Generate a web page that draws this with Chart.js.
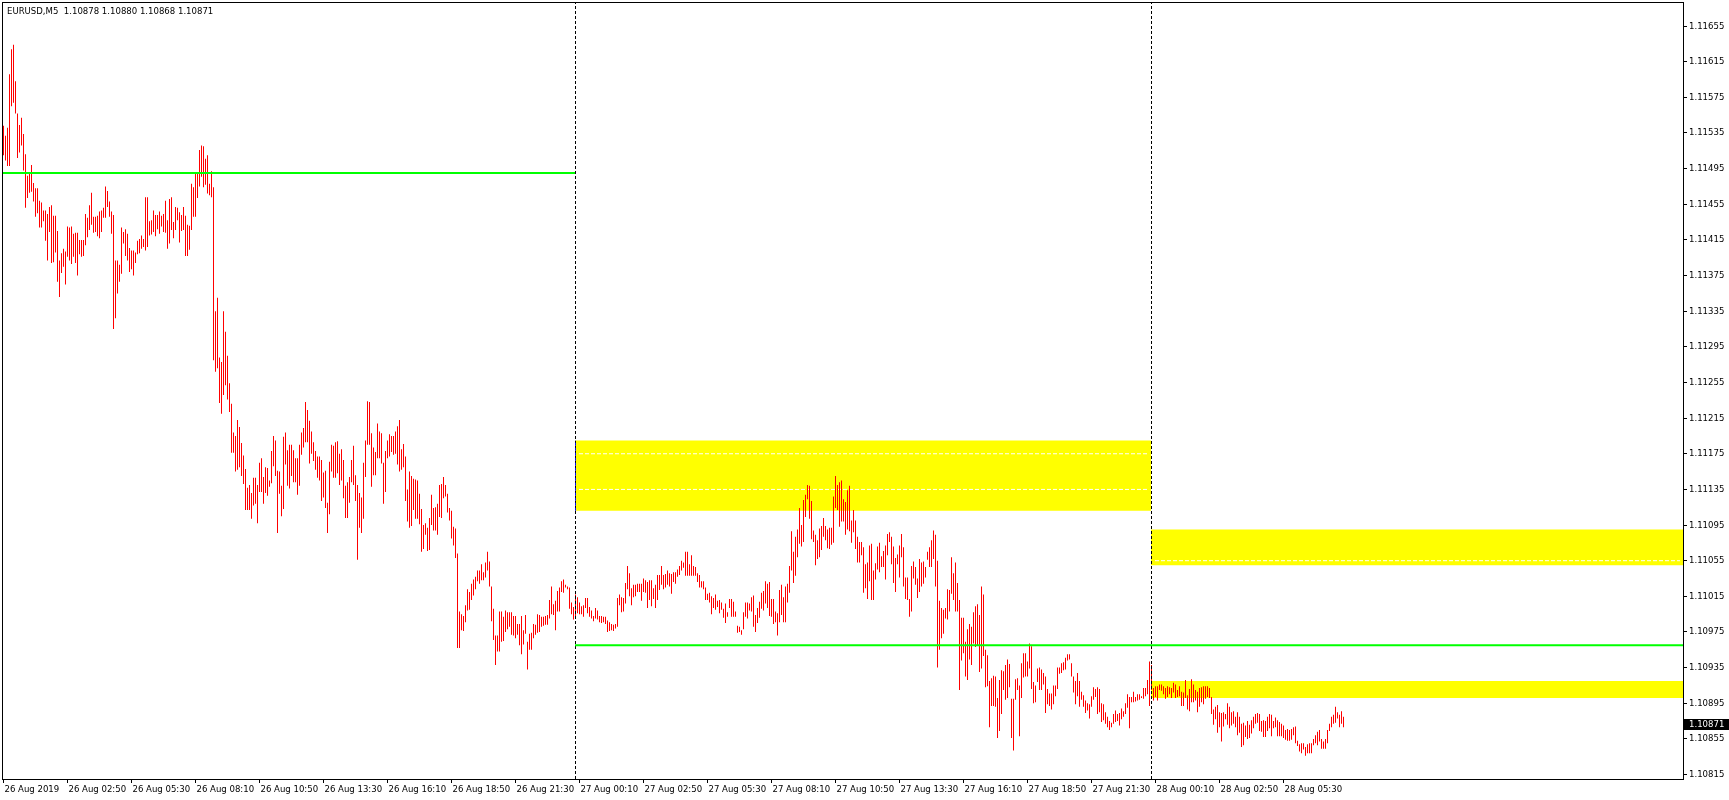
<!DOCTYPE html>
<html><head><meta charset="utf-8">
<script src="https://cdn.jsdelivr.net/npm/chart.js@4.4.1/dist/chart.umd.min.js"></script>
<style>html,body{margin:0;padding:0;background:#fff;overflow:hidden}canvas{display:block}</style>
</head><body>
<canvas id="c" width="1729" height="800"></canvas>
<script>
const symbolTitle = "EURUSD,M5";
const lastBar = {open: 1.10878, high: 1.10880, low: 1.10868, close: 1.10871};

const highs = [
1.11543,1.11532,1.11541,1.11601,1.11629,1.11634,1.11593,1.11557,1.11544,1.11552,
1.11534,1.11511,1.11487,1.11490,1.11499,1.11479,1.11473,1.11473,1.11459,1.11457,
1.11448,1.11448,1.11444,1.11452,1.11454,1.11442,1.11442,1.11425,1.11392,1.11400,
1.11405,1.11402,1.11430,1.11429,1.11430,1.11422,1.11423,1.11423,1.11415,1.11415,
1.11415,1.11444,1.11440,1.11454,1.11468,1.11441,1.11441,1.11442,1.11447,1.11448,
1.11451,1.11475,1.11470,1.11458,1.11447,1.11443,1.11392,1.11392,1.11387,1.11429,
1.11424,1.11427,1.11422,1.11406,1.11403,1.11403,1.11401,1.11414,1.11416,1.11420,
1.11416,1.11463,1.11463,1.11436,1.11437,1.11448,1.11443,1.11443,1.11447,1.11442,
1.11444,1.11459,1.11437,1.11461,1.11463,1.11435,1.11452,1.11451,1.11446,1.11443,
1.11452,1.11442,1.11432,1.11431,1.11478,1.11474,1.11490,1.11490,1.11516,1.11521,
1.11520,1.11506,1.11510,1.11478,1.11492,1.11474,1.11335,1.11350,1.11283,1.11278,
1.11335,1.11312,1.11285,1.11254,1.11231,1.11199,1.11195,1.11213,1.11205,1.11187,
1.11173,1.11158,1.11137,1.11140,1.11131,1.11148,1.11148,1.11140,1.11165,1.11170,
1.11149,1.11160,1.11159,1.11145,1.11178,1.11195,1.11190,1.11156,1.11155,1.11139,
1.11194,1.11199,1.11179,1.11185,1.11185,1.11179,1.11170,1.11170,1.11185,1.11199,
1.11204,1.11233,1.11224,1.11212,1.11200,1.11188,1.11178,1.11172,1.11172,1.11168,
1.11154,1.11156,1.11120,1.11166,1.11185,1.11184,1.11188,1.11189,1.11175,1.11180,
1.11168,1.11139,1.11143,1.11149,1.11168,1.11184,1.11151,1.11140,1.11131,1.11126,
1.11165,1.11190,1.11234,1.11233,1.11198,1.11182,1.11177,1.11209,1.11200,1.11198,
1.11165,1.11178,1.11190,1.11197,1.11195,1.11195,1.11200,1.11206,1.11213,1.11180,
1.11186,1.11172,1.11135,1.11155,1.11150,1.11147,1.11146,1.11145,1.11130,1.11113,
1.11095,1.11097,1.11092,1.11103,1.11129,1.11114,1.11115,1.11119,1.11140,1.11141,
1.11149,1.11140,1.11130,1.11114,1.11111,1.11093,1.11091,1.11063,1.10998,1.10995,
1.10993,1.11005,1.11023,1.11020,1.11029,1.11034,1.11037,1.11044,1.11044,1.11051,
1.11042,1.11053,1.11065,1.11054,1.11026,1.11001,1.10971,1.10971,1.10998,1.10998,
1.10992,1.10999,1.10997,1.10997,1.10997,1.10993,1.10993,1.10984,1.10984,1.10993,
1.10977,1.10994,1.10964,1.10973,1.10974,1.10984,1.10983,1.10995,1.10994,1.10992,
1.10992,1.10993,1.10994,1.11011,1.11026,1.11006,1.11010,1.11021,1.11025,1.11032,
1.11034,1.11028,1.11026,1.11025,1.11008,1.11003,1.11017,1.11014,1.11008,1.11004,
1.11005,1.11013,1.11013,1.11003,1.10999,1.10993,1.11002,1.10999,1.10993,1.10993,
1.10992,1.10992,1.10988,1.10986,1.10984,1.10983,1.10984,1.11013,1.11017,1.11014,
1.11013,1.11030,1.11049,1.11041,1.11024,1.11028,1.11028,1.11029,1.11029,1.11029,
1.11035,1.11033,1.11031,1.11033,1.11033,1.11024,1.11028,1.11039,1.11039,1.11049,
1.11039,1.11040,1.11044,1.11041,1.11040,1.11042,1.11042,1.11045,1.11049,1.11055,
1.11053,1.11065,1.11065,1.11051,1.11061,1.11049,1.11048,1.11041,1.11039,1.11032,
1.11032,1.11025,1.11018,1.11019,1.11015,1.11013,1.11017,1.11010,1.11011,1.11008,
1.11001,1.11007,1.10997,1.11012,1.11012,1.11009,1.10998,1.10982,1.10981,1.10977,
1.10997,1.11008,1.11008,1.11007,1.11014,1.11016,1.10994,1.11002,1.11009,1.11019,
1.11021,1.11032,1.11029,1.11031,1.11012,1.11012,1.10998,1.10996,1.11022,1.11028,
1.11014,1.11026,1.11029,1.11049,1.11088,1.11065,1.11082,1.11090,1.11114,1.11095,
1.11123,1.11129,1.11140,1.11139,1.11122,1.11089,1.11084,1.11078,1.11091,1.11094,
1.11103,1.11094,1.11090,1.11092,1.11092,1.11127,1.11150,1.11140,1.11143,1.11145,
1.11124,1.11121,1.11134,1.11139,1.11100,1.11112,1.11100,1.11082,1.11076,1.11076,
1.11070,1.11051,1.11053,1.11072,1.11074,1.11044,1.11052,1.11071,1.11075,1.11060,
1.11066,1.11072,1.11085,1.11087,1.11082,1.11071,1.11058,1.11062,1.11072,1.11085,
1.11070,1.11036,1.11036,1.11012,1.11049,1.11054,1.11048,1.11035,1.11057,1.11053,
1.11054,1.11048,1.11065,1.11070,1.11078,1.11089,1.11084,1.11055,1.11010,1.11002,
1.11000,1.11002,1.11023,1.11022,1.11059,1.11041,1.11053,1.11030,1.11011,1.10991,
1.10991,1.10964,1.10978,1.10984,1.10981,1.10997,1.11004,1.11006,1.10994,1.11026,
1.11017,1.10955,1.10949,1.10920,1.10923,1.10926,1.10925,1.10901,1.10921,1.10932,
1.10931,1.10938,1.10944,1.10939,1.10900,1.10900,1.10922,1.10923,1.10915,1.10940,
1.10951,1.10951,1.10942,1.10962,1.10959,1.10919,1.10915,1.10934,1.10935,1.10933,
1.10929,1.10925,1.10911,1.10906,1.10906,1.10915,1.10915,1.10935,1.10935,1.10940,
1.10941,1.10946,1.10950,1.10950,1.10940,1.10925,1.10920,1.10929,1.10920,1.10908,
1.10904,1.10898,1.10895,1.10894,1.10903,1.10913,1.10911,1.10913,1.10911,1.10895,
1.10894,1.10885,1.10880,1.10875,1.10873,1.10883,1.10887,1.10883,1.10884,1.10889,
1.10886,1.10895,1.10905,1.10902,1.10902,1.10908,1.10902,1.10905,1.10905,1.10903,
1.10912,1.10912,1.10921,1.10942,1.10938,1.10912,1.10914,1.10914,1.10916,1.10916,
1.10914,1.10912,1.10914,1.10913,1.10912,1.10918,1.10916,1.10910,1.10914,1.10908,
1.10907,1.10921,1.10904,1.10911,1.10922,1.10916,1.10910,1.10908,1.10912,1.10913,
1.10914,1.10914,1.10914,1.10912,1.10902,1.10888,1.10891,1.10893,1.10885,1.10884,
1.10885,1.10883,1.10895,1.10891,1.10885,1.10886,1.10880,1.10885,1.10880,1.10872,
1.10873,1.10870,1.10875,1.10871,1.10876,1.10880,1.10883,1.10884,1.10883,1.10875,
1.10876,1.10875,1.10880,1.10883,1.10882,1.10875,1.10879,1.10876,1.10874,1.10872,
1.10870,1.10865,1.10866,1.10865,1.10866,1.10868,1.10869,1.10853,1.10849,1.10850,
1.10850,1.10846,1.10849,1.10850,1.10850,1.10855,1.10859,1.10863,1.10865,1.10855,
1.10852,1.10855,1.10865,1.10872,1.10880,1.10882,1.10891,1.10885,1.10882,1.10886,
1.10880
];

const lows = [
1.11510,1.11504,1.11498,1.11498,1.11565,1.11569,1.11557,1.11507,1.11513,1.11521,
1.11493,1.11451,1.11462,1.11468,1.11469,1.11458,1.11441,1.11445,1.11429,1.11429,
1.11436,1.11414,1.11392,1.11424,1.11389,1.11390,1.11401,1.11368,1.11351,1.11378,
1.11385,1.11365,1.11396,1.11392,1.11388,1.11396,1.11389,1.11375,1.11399,1.11396,
1.11397,1.11409,1.11418,1.11426,1.11432,1.11423,1.11424,1.11419,1.11417,1.11424,
1.11440,1.11440,1.11452,1.11441,1.11422,1.11315,1.11327,1.11355,1.11368,1.11377,
1.11411,1.11397,1.11392,1.11379,1.11382,1.11375,1.11389,1.11399,1.11400,1.11405,
1.11407,1.11403,1.11407,1.11420,1.11421,1.11424,1.11419,1.11427,1.11422,1.11430,
1.11424,1.11423,1.11405,1.11411,1.11426,1.11417,1.11426,1.11437,1.11412,1.11425,
1.11426,1.11397,1.11397,1.11404,1.11426,1.11441,1.11441,1.11462,1.11475,1.11486,
1.11474,1.11477,1.11467,1.11465,1.11463,1.11280,1.11267,1.11271,1.11232,1.11220,
1.11241,1.11252,1.11236,1.11222,1.11176,1.11176,1.11155,1.11157,1.11160,1.11150,
1.11141,1.11112,1.11112,1.11112,1.11102,1.11117,1.11119,1.11097,1.11132,1.11132,
1.11119,1.11131,1.11128,1.11138,1.11142,1.11161,1.11150,1.11086,1.11130,1.11105,
1.11113,1.11163,1.11139,1.11136,1.11150,1.11143,1.11143,1.11129,1.11139,1.11174,
1.11182,1.11188,1.11188,1.11164,1.11175,1.11167,1.11157,1.11148,1.11145,1.11122,
1.11126,1.11114,1.11086,1.11107,1.11155,1.11148,1.11148,1.11153,1.11140,1.11145,
1.11125,1.11103,1.11103,1.11120,1.11143,1.11140,1.11122,1.11056,1.11092,1.11086,
1.11102,1.11149,1.11185,1.11185,1.11138,1.11151,1.11151,1.11170,1.11170,1.11164,
1.11119,1.11132,1.11170,1.11172,1.11177,1.11174,1.11175,1.11163,1.11155,1.11157,
1.11160,1.11122,1.11099,1.11092,1.11094,1.11112,1.11102,1.11102,1.11096,1.11065,
1.11068,1.11084,1.11066,1.11067,1.11095,1.11089,1.11089,1.11084,1.11104,1.11103,
1.11125,1.11127,1.11109,1.11100,1.11080,1.11072,1.11058,1.10957,1.10957,1.10977,
1.10976,1.10986,1.10999,1.11000,1.11011,1.11016,1.11023,1.11032,1.11029,1.11033,
1.11033,1.11036,1.11044,1.11026,1.10987,1.10966,1.10938,1.10953,1.10953,1.10964,
1.10965,1.10975,1.10978,1.10981,1.10972,1.10971,1.10968,1.10972,1.10960,1.10950,
1.10961,1.10973,1.10933,1.10955,1.10955,1.10968,1.10972,1.10974,1.10975,1.10981,
1.10982,1.10983,1.10983,1.10990,1.10995,1.10994,1.10977,1.10998,1.10998,1.11020,
1.11019,1.11025,1.11023,1.11001,1.10995,1.10989,1.10992,1.10996,1.10995,1.10995,
1.10992,1.11002,1.10996,1.10992,1.10990,1.10987,1.10990,1.10989,1.10986,1.10985,
1.10986,1.10984,1.10975,1.10976,1.10977,1.10976,1.10979,1.10981,1.11005,1.10997,
1.10998,1.11007,1.11023,1.11015,1.11005,1.11014,1.11015,1.11020,1.11020,1.11010,
1.11020,1.11019,1.11002,1.11011,1.11004,1.11012,1.11002,1.11011,1.11022,1.11028,
1.11023,1.11025,1.11028,1.11026,1.11018,1.11031,1.11029,1.11037,1.11039,1.11044,
1.11047,1.11038,1.11038,1.11038,1.11038,1.11038,1.11038,1.11031,1.11025,1.11025,
1.11023,1.11011,1.11011,1.11008,1.10995,1.11002,1.11000,1.11003,1.10996,1.11000,
1.10991,1.10985,1.10992,1.11002,1.10992,1.10992,1.10992,1.10974,1.10975,1.10972,
1.10978,1.10992,1.10990,1.10999,1.10998,1.10981,1.10975,1.10985,1.10991,1.11001,
1.10999,1.11007,1.11002,1.10993,1.10992,1.10984,1.10986,1.10971,1.10986,1.10994,
1.10986,1.10986,1.11008,1.11019,1.11044,1.11030,1.11038,1.11059,1.11074,1.11071,
1.11076,1.11104,1.11124,1.11102,1.11079,1.11076,1.11050,1.11057,1.11059,1.11067,
1.11082,1.11078,1.11069,1.11068,1.11073,1.11075,1.11114,1.11112,1.11093,1.11099,
1.11099,1.11084,1.11090,1.11088,1.11075,1.11087,1.11068,1.11053,1.11053,1.11061,
1.11019,1.11024,1.11012,1.11032,1.11011,1.11011,1.11034,1.11045,1.11042,1.11048,
1.11048,1.11034,1.11061,1.11076,1.11051,1.11030,1.11020,1.11051,1.11036,1.11059,
1.11026,1.11012,1.11011,1.10992,1.10998,1.11035,1.11028,1.11013,1.11020,1.11026,
1.11029,1.11036,1.11056,1.11048,1.11048,1.11057,1.11026,1.10935,1.10955,1.10968,
1.10973,1.10990,1.10989,1.10998,1.11018,1.11011,1.10998,1.10998,1.10910,1.10943,
1.10951,1.10925,1.10921,1.10944,1.10938,1.10962,1.10958,1.10960,1.10930,1.10934,
1.10948,1.10913,1.10914,1.10868,1.10892,1.10892,1.10891,1.10856,1.10864,1.10883,
1.10910,1.10899,1.10901,1.10913,1.10856,1.10842,1.10899,1.10910,1.10858,1.10901,
1.10924,1.10925,1.10925,1.10934,1.10911,1.10895,1.10896,1.10919,1.10910,1.10910,
1.10916,1.10884,1.10894,1.10892,1.10888,1.10894,1.10903,1.10911,1.10928,1.10929,
1.10932,1.10933,1.10943,1.10944,1.10925,1.10907,1.10894,1.10903,1.10891,1.10899,
1.10891,1.10884,1.10887,1.10878,1.10891,1.10899,1.10902,1.10883,1.10885,1.10874,
1.10876,1.10872,1.10868,1.10865,1.10868,1.10872,1.10874,1.10875,1.10870,1.10877,
1.10880,1.10883,1.10890,1.10867,1.10896,1.10896,1.10897,1.10898,1.10899,1.10901,
1.10900,1.10903,1.10905,1.10892,1.10910,1.10898,1.10902,1.10898,1.10910,1.10909,
1.10905,1.10900,1.10902,1.10905,1.10901,1.10907,1.10901,1.10902,1.10903,1.10892,
1.10892,1.10901,1.10888,1.10886,1.10896,1.10896,1.10898,1.10885,1.10891,1.10896,
1.10894,1.10900,1.10902,1.10901,1.10883,1.10871,1.10877,1.10862,1.10868,1.10852,
1.10869,1.10877,1.10871,1.10867,1.10870,1.10872,1.10868,1.10859,1.10862,1.10846,
1.10848,1.10857,1.10855,1.10856,1.10861,1.10867,1.10872,1.10873,1.10864,1.10863,
1.10857,1.10857,1.10864,1.10867,1.10858,1.10867,1.10868,1.10858,1.10858,1.10858,
1.10856,1.10854,1.10853,1.10853,1.10854,1.10859,1.10850,1.10847,1.10841,1.10839,
1.10843,1.10836,1.10839,1.10839,1.10839,1.10848,1.10850,1.10848,1.10852,1.10844,
1.10844,1.10844,1.10850,1.10864,1.10868,1.10872,1.10873,1.10878,1.10868,1.10872,
1.10868
];

const timeTickBars = [0,32,64,96,128,160,192,224,256,288,320,352,384,416,448,480,512,544,576,608,640];
const timeTickLabels = ["26 Aug 2019","26 Aug 02:50","26 Aug 05:30","26 Aug 08:10","26 Aug 10:50","26 Aug 13:30","26 Aug 16:10","26 Aug 18:50","26 Aug 21:30","27 Aug 00:10","27 Aug 02:50","27 Aug 05:30","27 Aug 08:10","27 Aug 10:50","27 Aug 13:30","27 Aug 16:10","27 Aug 18:50","27 Aug 21:30","28 Aug 00:10","28 Aug 02:50","28 Aug 05:30"];
const priceTicks = [1.10815,1.10855,1.10895,1.10935,1.10975,1.11015,1.11055,1.11095,1.11135,1.11175,1.11215,1.11255,1.11295,1.11335,1.11375,1.11415,1.11455,1.11495,1.11535,1.11575,1.11615,1.11655];
const priceMin = 1.10810, priceMax = 1.11682;
const lastBarSlot = 840;

const daySeparatorBars = [286, 574];
const levelPrices = [1.11490, 1.10960];
const levelStartBar = [0, 286];
const levelEndBar = [286, 840];
const zoneTop = [1.11190, 1.11090, 1.10920];
const zoneBottom = [1.11111, 1.11050, 1.10901];
const zoneStartBar = [286, 574, 574];
const zoneEndBar = [574, 840, 840];
const zoneDashLines = [[1.11175, 1.11135], [1.11055], []];

const FONT = '"DejaVu Sans Condensed", "Liberation Sans", sans-serif';
const FSIZE = 9.5;
const edge = b => b - 0.25;

const datasets = [];
datasets.push({
  type: 'bar', label: 'EURUSD',
  data: highs.map((h, i) => ({x: i, y: [lows[i], h]})),
  backgroundColor: '#ff0000', borderWidth: 0, barThickness: 1, inflateAmount: 0,
  grouped: false, order: 30
});
zoneTop.forEach((t, i) => {
  datasets.push({
    type: 'line', data: [{x: edge(zoneStartBar[i]), y: t}, {x: edge(zoneEndBar[i]), y: t}],
    borderWidth: 0, borderColor: 'rgba(0,0,0,0)', backgroundColor: '#ffff00',
    fill: {value: zoneBottom[i]}, pointRadius: 0, order: 50
  });
  zoneDashLines[i].forEach(p => datasets.push({
    type: 'line', data: [{x: edge(zoneStartBar[i]) + 2, y: p}, {x: edge(zoneEndBar[i]) - 1.5, y: p}],
    borderWidth: 1, borderColor: '#ffffff', borderDash: [4, 2], pointRadius: 0, fill: false, order: 40
  }));
});
daySeparatorBars.forEach(b => {
  datasets.push({
    type: 'line', data: [{x: b, y: priceMin}, {x: b, y: priceMax}],
    borderWidth: 1, borderColor: '#000000', borderDash: [3, 2], pointRadius: 0, fill: false, order: 20
  });
});
datasets.push({
  type: 'line', data: [{x: daySeparatorBars[0], y: zoneBottom[0]}, {x: daySeparatorBars[0], y: zoneTop[0]}],
  borderWidth: 1, borderColor: '#0000ff', borderDash: [3, 2], pointRadius: 0, fill: false, order: 19
});
levelPrices.forEach((p, i) => {
  datasets.push({
    type: 'line', data: [{x: i === 0 ? -0.75 : edge(levelStartBar[i]), y: p}, {x: edge(levelEndBar[i]), y: p}],
    borderWidth: 2, borderColor: '#00ff00', pointRadius: 0, fill: false, order: 10
  });
});

const decorPlugin = {
  id: 'decor',
  afterDraw(chart) {
    const {ctx, chartArea: a} = chart;
    ctx.save();
    ctx.strokeStyle = '#000'; ctx.lineWidth = 1;
    ctx.strokeRect(a.left + 0.5, a.top + 0.5, a.right - a.left, a.bottom - a.top);
    ctx.font = FSIZE + 'px ' + FONT;
    ctx.fillStyle = '#000'; ctx.textBaseline = 'middle'; ctx.textAlign = 'left';
    const t = [lastBar.open, lastBar.high, lastBar.low, lastBar.close].map(v => v.toFixed(5)).join(' ');
    ctx.fillText(symbolTitle + '  ' + t, a.left + 5, a.top + 9.5);
    const y = Math.round(chart.scales.y.getPixelForValue(lastBar.close));
    ctx.fillRect(a.right + 1, y - 6, 50, 11);
    ctx.fillStyle = '#fff';
    ctx.fillText(lastBar.close.toFixed(5), a.right + 6, y - 0.5);
    ctx.restore();
  }
};

new Chart(document.getElementById('c'), {
  type: 'bar',
  data: {datasets},
  plugins: [decorPlugin],
  options: {
    responsive: false, animation: false, devicePixelRatio: 1,
    layout: {padding: {top: 2, left: 2, right: 0, bottom: 0}},
    plugins: {legend: {display: false}, tooltip: {enabled: false}, title: {display: false}},
    scales: {
      x: {
        type: 'linear', min: -0.75, max: lastBarSlot - 0.25, offset: false,
        grid: {drawOnChartArea: false, drawTicks: true, tickLength: 4, color: '#000', offset: false},
        border: {display: true, color: '#000'},
        afterBuildTicks: s => { s.ticks = timeTickBars.map(v => ({value: v})); },
        afterFit: s => { s.height = 21; s.paddingLeft = 0; s.paddingRight = 0; },
        ticks: {
          autoSkip: false, maxRotation: 0, minRotation: 0, align: 'start', labelOffset: 1, padding: 1,
          color: '#000', font: {family: FONT, size: FSIZE},
          callback: (v, i) => timeTickLabels[i]
        }
      },
      y: {
        type: 'linear', position: 'right', min: priceMin, max: priceMax,
        grid: {drawOnChartArea: false, drawTicks: true, tickLength: 4, color: '#000'},
        border: {display: true, color: '#000'},
        afterBuildTicks: s => { s.ticks = priceTicks.map(v => ({value: v})); },
        afterFit: s => { s.width = 46; s.paddingTop = 0; s.paddingBottom = 0; },
        ticks: {
          autoSkip: false, padding: 2, color: '#000', font: {family: FONT, size: FSIZE},
          callback: v => Number(v).toFixed(5)
        }
      }
    }
  }
});
</script>
</body></html>
